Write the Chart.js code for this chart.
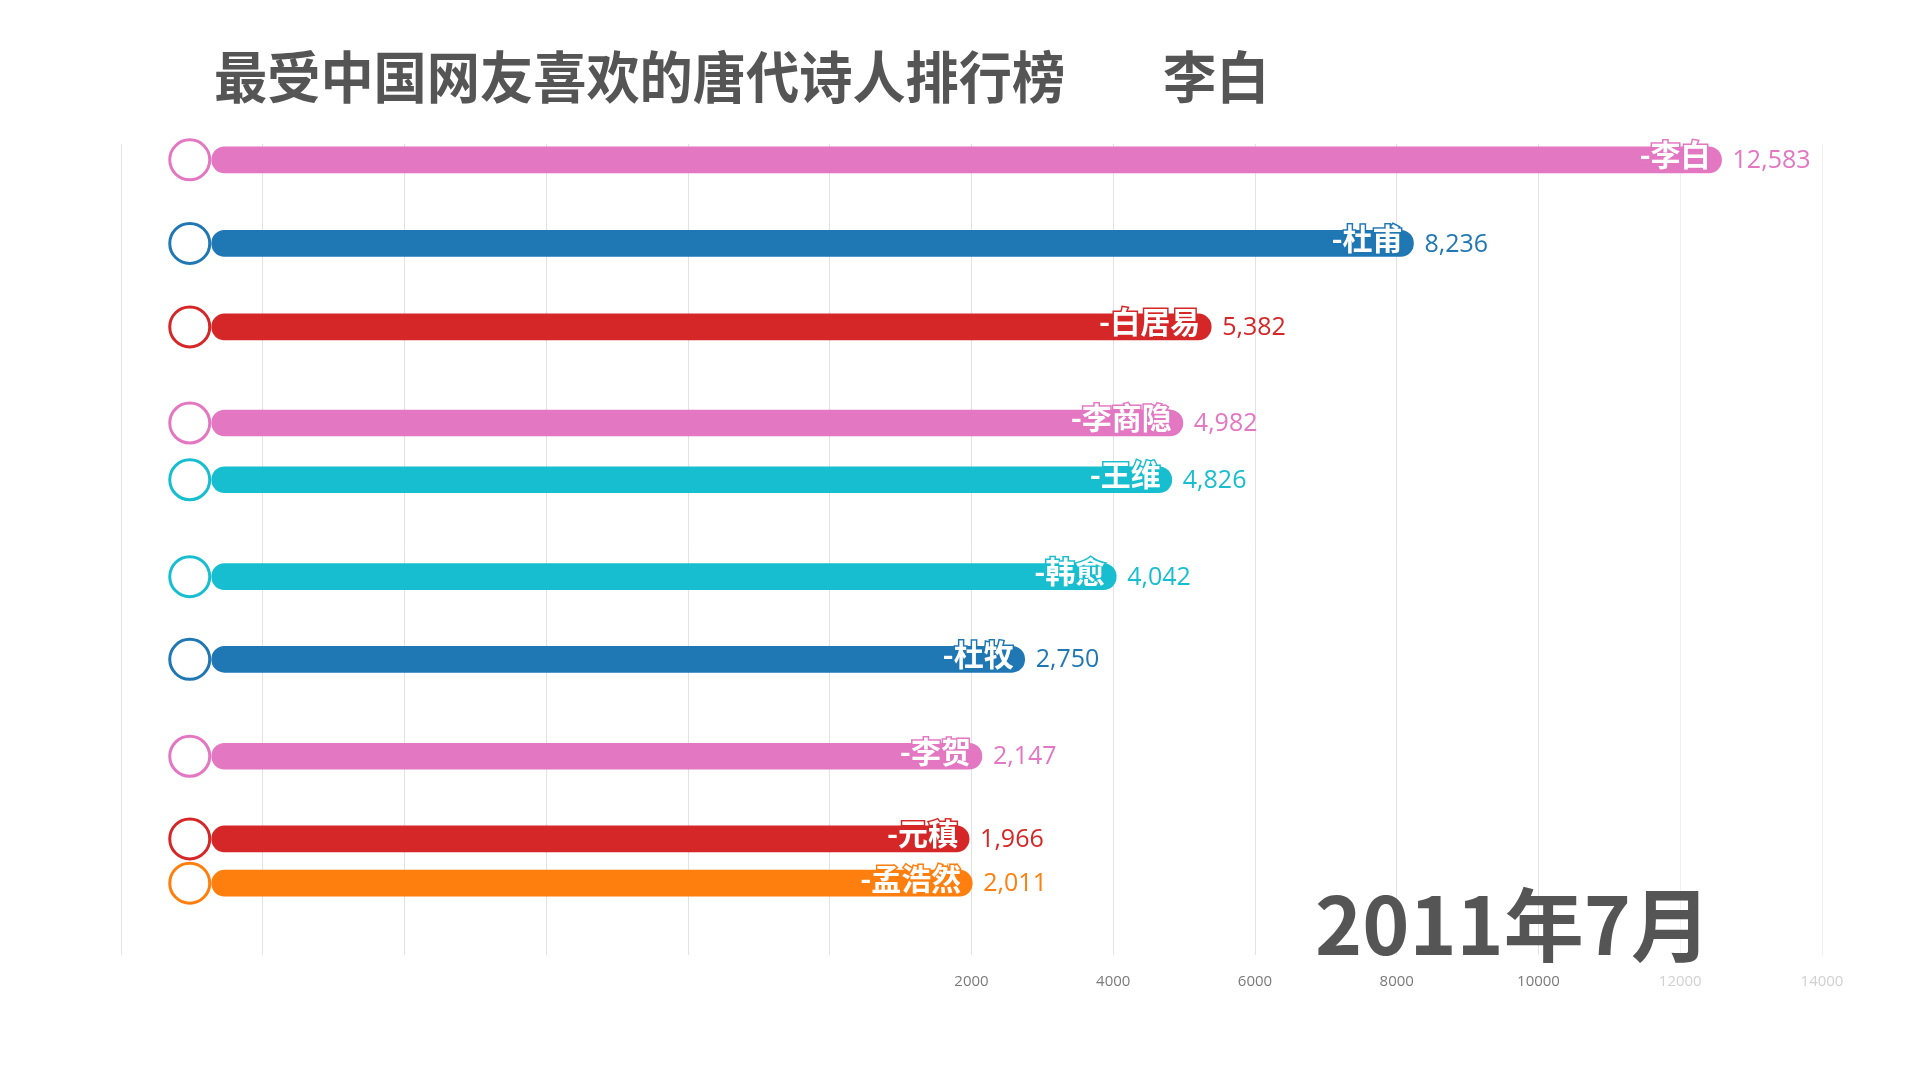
<!DOCTYPE html>
<html>
<head>
<meta charset="utf-8">
<script src="https://cdn.jsdelivr.net/npm/chart.js@4"></script>
<style>
  body { margin: 0; background: #fff; }
  #wrap { width: 1920px; height: 1080px; position: relative; }
</style>
</head>
<body>
<div id="wrap"><canvas id="raceChart"></canvas></div>
<script>
// 数据
const poets = ["李白", "杜甫", "白居易", "李商隐", "王维", "韩愈", "杜牧", "李贺", "元稹", "孟浩然"];
const scores = [12583, 8236, 5382, 4982, 4826, 4042, 2750, 2147, 1966, 2011];
// 排名位置（动画中途，所以有小数）
const rankPos = [0, 1.0, 2.0, 3.15, 3.83, 4.99, 5.98, 7.14, 8.13, 8.66];
const barColors = ["#e377c2", "#1f77b4", "#d62728", "#e377c2", "#17becf", "#17becf", "#1f77b4", "#e377c2", "#d62728", "#ff7f0e"];
const xTicks = [-10000, -8000, -6000, -4000, -2000, 0, 2000, 4000, 6000, 8000, 10000, 12000, 14000];
const chartTitle = "最受中国网友喜欢的唐代诗人排行榜";
const dateLabel = "2011年7月";

const barStart = -8720;   // 条形左端
const markerX = -9030;    // 圆圈位置

const cjk = '"Noto Sans CJK SC", "Noto Sans", sans-serif';

// 标签插件：名字、数值、标题和日期
const labelPlugin = {
  id: "raceLabels",
  afterDatasetsDraw(chart) {
    const ctx = chart.ctx;
    const meta = chart.getDatasetMeta(0);
    ctx.save();
    meta.data.forEach((bar, i) => {
      // 名字（白字，条形内）
      ctx.font = "bold 30px " + cjk;
      ctx.textAlign = "right";
      ctx.textBaseline = "middle";
      ctx.lineWidth = 3;
      ctx.strokeStyle = barColors[i];
      ctx.strokeText("-" + poets[i], bar.x - 11, bar.y - 5);
      ctx.fillStyle = "#ffffff";
      ctx.fillText("-" + poets[i], bar.x - 11, bar.y - 5);
      // 数值
      ctx.font = '25px "Open Sans", sans-serif';
      ctx.textAlign = "left";
      ctx.fillStyle = barColors[i];
      ctx.fillText(scores[i].toLocaleString("en-US"), bar.x + 11, bar.y + 1);
    });

    // 标题（横向略窄）
    let leader = 0;
    scores.forEach((v, i) => { if (v > scores[leader]) leader = i; });
    ctx.font = "bold 56px " + cjk;
    ctx.fillStyle = "#555555";
    ctx.textAlign = "left";
    ctx.textBaseline = "alphabetic";
    ctx.save();
    ctx.translate(214, 98);
    ctx.scale(0.95, 1);
    ctx.fillText(chartTitle, 0, 0);
    ctx.restore();
    ctx.save();
    ctx.translate(1163, 98);
    ctx.scale(0.95, 1);
    ctx.fillText(poets[leader], 0, 0);
    ctx.restore();

    // 日期
    ctx.font = "bold 80px " + cjk;
    ctx.textAlign = "right";
    ctx.fillText(dateLabel, 1711, 955);
    ctx.restore();
  }
};

const ctx = document.getElementById("raceChart").getContext("2d");

const chart = new Chart(ctx, {
  data: {
    datasets: [
      {
        type: "bar",
        indexAxis: "y",
        data: poets.map((p, i) => ({ x: scores[i], y: rankPos[i] })),
        backgroundColor: barColors,
        base: barStart,
        barThickness: 26,
        borderRadius: 13,
        borderSkipped: false,
        clip: false,
        order: 1
      },
      {
        type: "scatter",
        data: rankPos.map((r) => ({ x: markerX, y: r })),
        pointRadius: 20,
        pointBorderWidth: 3,
        pointBackgroundColor: "#ffffff",
        pointBorderColor: barColors,
        clip: false,
        order: 0
      }
    ]
  },
  options: {
    responsive: true,
    maintainAspectRatio: false,
    animation: false,
    layout: { padding: { left: 121, right: 98, top: 144, bottom: 71 } },
    plugins: {
      legend: { display: false },
      tooltip: { enabled: false }
    },
    scales: {
      x: {
        type: "linear",
        min: xTicks[0],
        max: xTicks[xTicks.length - 1],
        afterBuildTicks: (axis) => { axis.ticks = xTicks.map((v) => ({ value: v })); },
        border: { display: false },
        grid: {
          drawTicks: false,
          color: (c) => (c.tick && c.tick.value >= 12000 ? "#f0f0f0" : "#e2e2e2")
        },
        ticks: {
          padding: 18,
          font: { family: '"Open Sans", sans-serif', size: 15 },
          color: (c) => (c.tick && c.tick.value >= 12000 ? "#d0d0d0" : "#7a7a7a"),
          callback: (v) => (v > 0 ? String(v) : "")
        }
      },
      y: {
        type: "linear",
        reverse: true,
        offset: false,
        min: -0.19,
        max: 9.52,
        display: false
      }
    }
  },
  plugins: [labelPlugin]
});
</script>
</body>
</html>
